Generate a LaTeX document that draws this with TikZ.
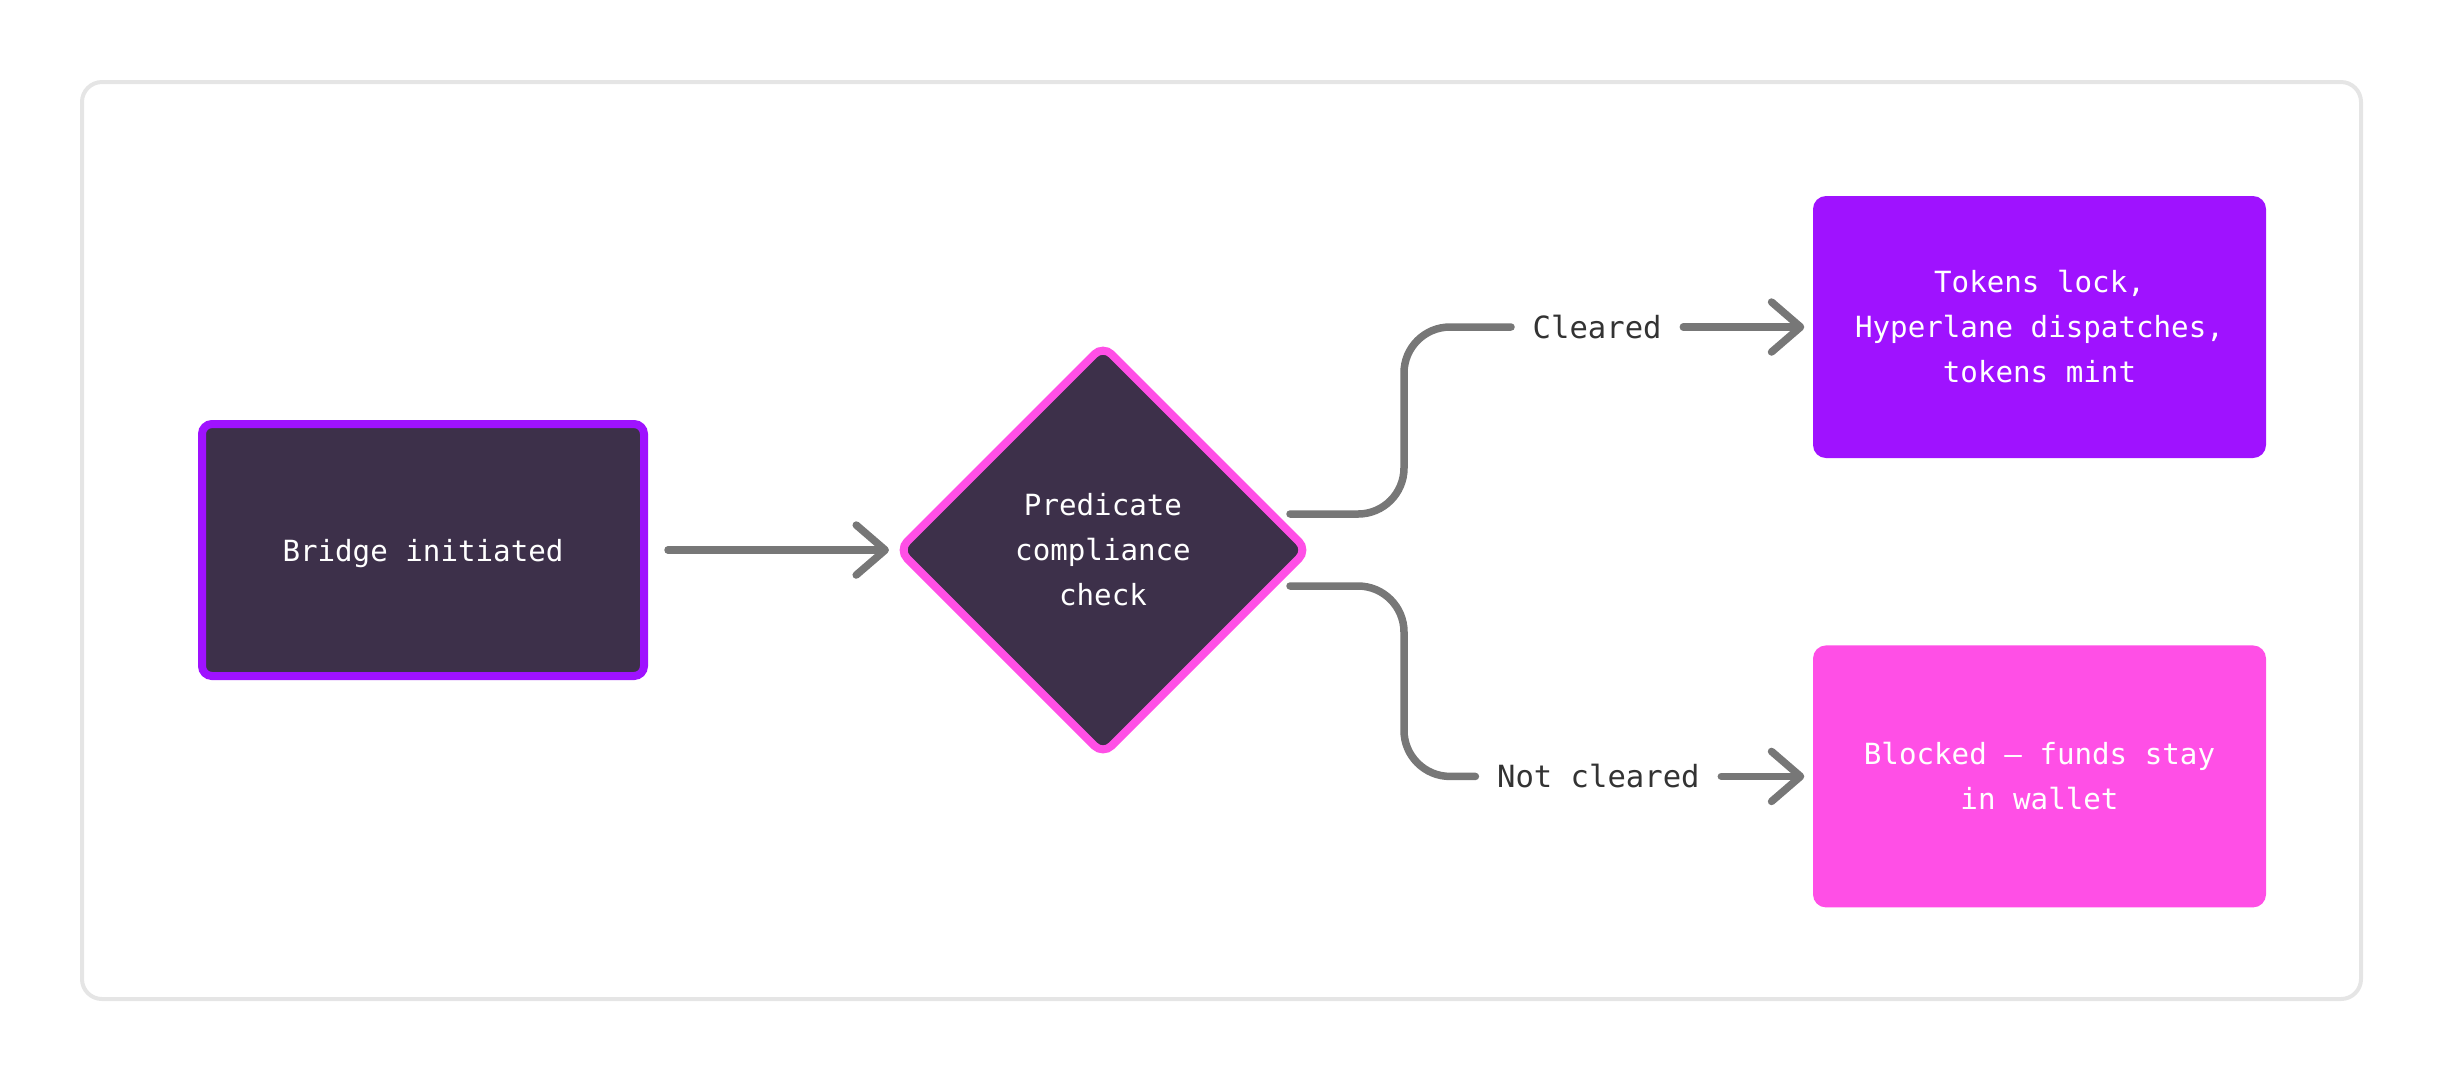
\documentclass[tikz,border=0pt]{standalone}
\usepackage{fontspec}
\newfontfamily\monofont{DejaVu Sans Mono}
\usepackage{xcolor}
\usetikzlibrary{positioning,arrows.meta,shapes.geometric}
\definecolor{nodedark}{HTML}{3D304A}
\definecolor{violetfill}{HTML}{9F12FF}
\definecolor{pinkfill}{HTML}{FF4FE6}
\definecolor{linkgray}{HTML}{777777}
\definecolor{framegray}{HTML}{E5E5E5}
\definecolor{labelgray}{HTML}{333333}

\begin{document}
\begin{tikzpicture}[
	every node/.style={font=\monofont\fontsize{8.3}{12.8}\selectfont},
	box/.style={rounded corners=1.3mm, align=center, text=white, inner sep=0pt, minimum width=45.3mm, minimum height=26.2mm},
	startbox/.style={box, draw=violetfill, fill=nodedark, line width=0.8mm, rounded corners=1mm, minimum width=44.2mm, minimum height=25.2mm, text depth=0pt},
	decision/.style={diamond, aspect=1, draw=pinkfill, fill=nodedark, line width=0.8mm, rounded corners=1.2mm, align=center, text=white, inner sep=0pt, minimum width=41.2mm, minimum height=41.2mm},
	branch/.style={font=\monofont\fontsize{8.7}{10}\selectfont, text=labelgray, inner xsep=2.1mm, inner ysep=0.5mm},
	link/.style={draw=linkgray, line width=0.75mm, line cap=round},
	forkline/.style={link, rounded corners=4.6mm},
	arrow/.style={link, -{Straight Barb[length=2.9mm, width=5mm, round]}, shorten >=0.8mm}
	]
	
	\useasboundingbox (0,0) rectangle (24.44,-10.84);
	\draw[framegray, line width=0.4mm, rounded corners=2mm] (0.82,-0.82) rectangle (23.61,-9.99);
	
	\node[startbox] (bridge) at (4.23,-5.5) {Bridge initiated};
	\node[decision, right=24.5mm of bridge] (check) {Predicate\\compliance\\check};
	\node[box, fill=violetfill] (mint) at (20.395,-3.27) {Tokens lock,\\Hyperlane dispatches,\\tokens mint};
	\node[box, fill=pinkfill, below=18.6mm of mint] (blocked) {Blocked — funds stay\\in wallet};
	\node[branch, left=12.9mm of mint] (cleared) {Cleared};
	\node[branch, left=9.1mm of blocked] (notcleared) {Not cleared};
	\coordinate (fork) at ([xshift=9.1mm]check.east);
	
	\draw[arrow, shorten <=2mm, shorten >=0.4mm] (bridge) -- (check);
	\draw[forkline] ([xshift=-2.3mm, yshift=3.6mm]check.east) -| (fork |- cleared.west) -- (cleared.west);
	\draw[forkline] ([xshift=-2.3mm, yshift=-3.6mm]check.east) -| (fork |- notcleared.west) -- (notcleared.west);
	\draw[arrow] (cleared) -- (mint);
	\draw[arrow] (notcleared) -- (blocked);
	
\end{tikzpicture}
\end{document}
